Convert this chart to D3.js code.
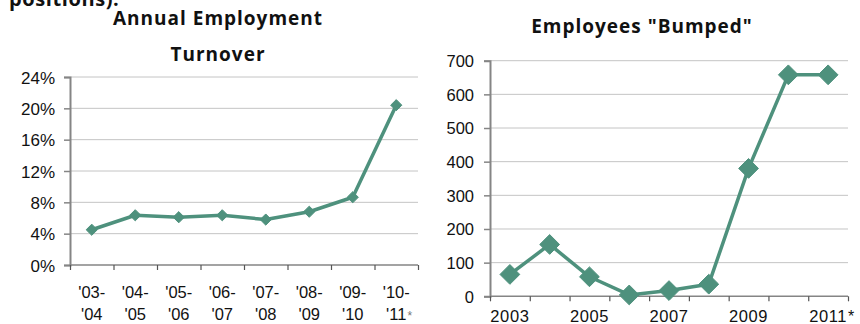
<!DOCTYPE html>
<html>
<head>
<meta charset="utf-8">
<script src="https://cdn.jsdelivr.net/npm/d3@7"></script>
<style>
  html, body { margin: 0; padding: 0; background: #fff; }
  svg { display: block; }
  .tick-label { font-family: "Liberation Sans", Arial, sans-serif; fill: #111; }
  .title { font-family: "Open Sans", "Lato", sans-serif; font-weight: 700; fill: #111; }
</style>
</head>
<body>
<svg id="chart" width="860" height="324"></svg>
<script>
// Annual employment turnover, by fiscal year
const turnoverYears = ["'03-|'04", "'04-|'05", "'05-|'06", "'06-|'07", "'07-|'08", "'08-|'09", "'09-|'10", "'10-|'11*"];
const turnoverRates = [4.5, 6.35, 6.1, 6.35, 5.8, 6.8, 8.65, 20.4];
const turnoverTicks = [0, 4, 8, 12, 16, 20, 24];

// Employees "bumped", by calendar year
const bumpedYears = ["2003", "2004", "2005", "2006", "2007", "2008", "2009", "2010", "2011*"];
const bumpedCounts = [65, 154, 58, 4, 17, 36, 380, 658, 658];
const bumpedTicks = [0, 100, 200, 300, 400, 500, 600, 700];
const bumpedLabelled = ["2003", "2005", "2007", "2009", "2011*"];

const svg = d3.select("#chart");
const lineColor = "#4e917d";
const gridColor = "#c4c4c4";
const axisColor = "#858585";

// Clipped tail of the preceding paragraph
svg.append("text").attr("class", "title")
  .attr("x", 9).attr("y", 6)
  .style("font-size", "20px").style("letter-spacing", "0.6px")
  .text("positions).");

function drawPanel(opt) {
  const g = svg.append("g");
  const x = d3.scaleBand().domain(opt.categories).range([opt.left, opt.right]).padding(0);
  const xEdges = d3.scaleLinear().domain([0, opt.categories.length]).range([opt.left, opt.right]);
  const y = d3.scaleLinear().domain([opt.ticks[0], opt.ticks[opt.ticks.length - 1]]).range([opt.bottom, opt.top]);

  // horizontal gridlines
  g.append("g").selectAll("line").data(opt.ticks.slice(1)).join("line")
    .attr("x1", opt.left).attr("x2", opt.right)
    .attr("y1", d => y(d)).attr("y2", d => y(d))
    .attr("stroke", gridColor).attr("stroke-width", 1);

  // value axis
  const yAxis = g.append("g").attr("transform", `translate(${opt.left},0)`)
    .call(d3.axisLeft(y).tickValues(opt.ticks).tickSize(6).tickPadding(opt.yPad).tickFormat(opt.yFormat));
  yAxis.select(".domain").attr("stroke", axisColor).attr("stroke-width", 2);
  yAxis.selectAll(".tick line").attr("stroke", axisColor).attr("stroke-width", 1.5);
  yAxis.selectAll(".tick text").attr("class", "tick-label")
    .style("font-size", opt.yFont + "px").attr("dy", "0.36em");

  // category axis: tick marks at the band edges
  const xAxis = g.append("g").attr("transform", `translate(0,${opt.bottom})`)
    .call(d3.axisBottom(xEdges).tickValues(d3.range(opt.categories.length + 1)).tickSize(5).tickFormat(""));
  xAxis.select(".domain").attr("stroke", axisColor).attr("stroke-width", 1.5)
    .attr("d", `M${opt.left},0H${opt.right}`);
  xAxis.selectAll(".tick line").attr("stroke", "#555").attr("stroke-width", 1.2);

  // category labels, centred in each band (an asterisk hangs past the centred text)
  opt.categories.filter(opt.labelFilter).forEach(d => {
    const cx = x(d) + x.bandwidth() / 2;
    d.split("|").forEach((ln, i) => {
      const star = ln.endsWith("*");
      const body = star ? ln.slice(0, -1) : ln;
      const yy = opt.labelY + i * opt.labelGap;
      const txt = g.append("text").attr("class", "tick-label")
        .style("font-size", opt.xFont + "px").style("letter-spacing", opt.xSpacing + "px")
        .attr("x", cx).attr("y", yy)
        .attr("text-anchor", "middle").text(body);
      if (star) {
        const w = txt.node().getComputedTextLength();
        g.append("text").attr("class", "tick-label")
          .style("font-size", opt.starFont + "px").style("fill", opt.starColor)
          .attr("x", cx + w / 2 + 1).attr("y", yy)
          .text("*");
      }
    });
  });

  // series line and diamond markers
  const pts = opt.categories.map((c, i) => [x(c) + x.bandwidth() / 2, y(opt.values[i])]);
  g.append("path").datum(pts)
    .attr("d", d3.line())
    .attr("fill", "none").attr("stroke", lineColor)
    .attr("stroke-width", opt.lineWidth).attr("stroke-linejoin", "round");
  g.append("g").selectAll("path").data(pts).join("path")
    .attr("transform", d => `translate(${d[0]},${d[1]})`)
    .attr("d", d3.symbol(d3.symbolDiamond2, opt.markerSize))
    .attr("fill", lineColor).attr("stroke", lineColor).attr("stroke-width", 1)
    .attr("stroke-linejoin", "round");

  // title lines
  opt.title.forEach((t, i) => {
    svg.append("text").attr("class", "title")
      .attr("x", opt.titleX).attr("y", opt.titleY + i * opt.titleGap)
      .attr("text-anchor", "middle")
      .style("font-size", opt.titleFont + "px").style("letter-spacing", "1px")
      .text(t);
  });
}

drawPanel({
  categories: turnoverYears, values: turnoverRates, ticks: turnoverTicks,
  left: 70, right: 418, top: 77, bottom: 265,
  yFormat: d => d + "%", yFont: 17, yPad: 9, xFont: 16.5, xSpacing: 0,
  labelFilter: () => true, labelY: 298, labelGap: 22,
  starFont: 12, starColor: "#777",
  lineWidth: 3.5, markerSize: 80,
  title: ["Annual Employment", "Turnover"], titleX: 218, titleY: 25, titleGap: 36, titleFont: 19
});

drawPanel({
  categories: bumpedYears, values: bumpedCounts, ticks: bumpedTicks,
  left: 490, right: 848, top: 60.7, bottom: 296.3,
  yFormat: d => d, yFont: 16.5, yPad: 10, xFont: 16.5, xSpacing: 0.6,
  labelFilter: d => bumpedLabelled.includes(d), labelY: 322, labelGap: 0,
  starFont: 16, starColor: "#111",
  lineWidth: 3.5, markerSize: 250,
  title: ['Employees "Bumped"'], titleX: 642, titleY: 33, titleGap: 0, titleFont: 19
});
</script>
</body>
</html>
